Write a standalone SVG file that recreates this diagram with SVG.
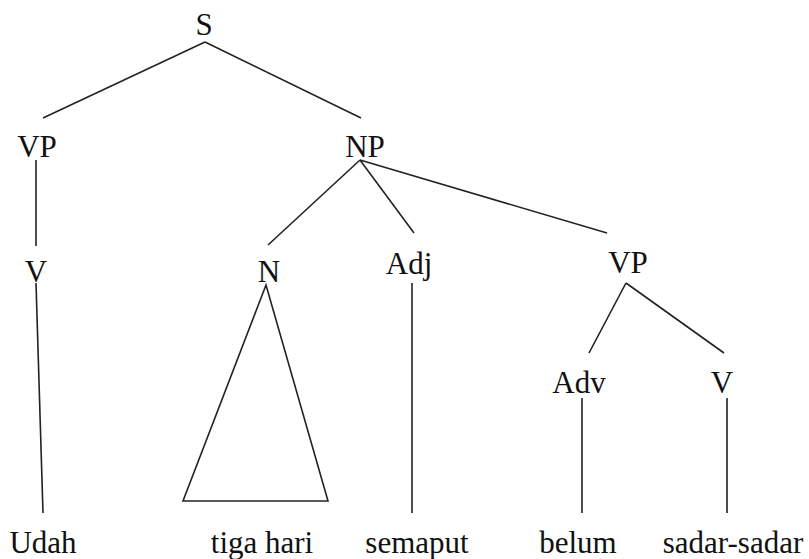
<svg xmlns="http://www.w3.org/2000/svg" width="809" height="559" viewBox="0 0 809 559">
  <style>
    text { font-family: 'Liberation Serif', serif; font-size: 31px; fill: #111; text-anchor: middle; }
    .edge { stroke: #222; stroke-width: 1.6; fill: none; stroke-linecap: butt; }
  </style>
  <rect width="809" height="559" fill="#fff"/>

  <!-- branches of the tree -->
  <g id="connectors">
    <line class="edge" x1="205" y1="42" x2="43" y2="118"/>
    <line class="edge" x1="205" y1="42" x2="361" y2="118"/>
    <line class="edge" x1="36" y1="160" x2="36" y2="246"/>
    <line class="edge" x1="360" y1="160" x2="268" y2="245"/>
    <line class="edge" x1="360" y1="160" x2="414" y2="233"/>
    <line class="edge" x1="360" y1="160" x2="607" y2="233"/>
    <line class="edge" x1="36" y1="283" x2="43" y2="513"/>
    <polygon class="edge" points="266,285 183,501 328,501"/>
    <line class="edge" x1="412" y1="283" x2="412" y2="513"/>
    <line class="edge" x1="626" y1="283" x2="589" y2="353"/>
    <line class="edge" x1="626" y1="283" x2="724" y2="353"/>
    <line class="edge" x1="582" y1="398" x2="582" y2="513"/>
    <line class="edge" x1="727" y1="398" x2="727" y2="513"/>
  </g>

  <!-- category labels -->
  <g id="node-s"><text x="204" y="35">S</text></g>
  <g id="node-vp1"><text x="37" y="157">VP</text></g>
  <g id="node-np"><text x="365" y="157">NP</text></g>
  <g id="node-v1"><text x="36" y="282">V</text></g>
  <g id="node-n"><text x="269" y="282">N</text></g>
  <g id="node-adj"><text x="409" y="274">Adj</text></g>
  <g id="node-vp2"><text x="628" y="273">VP</text></g>
  <g id="node-adv"><text x="579" y="393">Adv</text></g>
  <g id="node-v2"><text x="722" y="393">V</text></g>

  <!-- words -->
  <g id="leaf-udah"><text x="43" y="553">Udah</text></g>
  <g id="leaf-tiga-hari"><text x="262" y="553">tiga hari</text></g>
  <g id="leaf-semaput"><text x="417" y="553">semaput</text></g>
  <g id="leaf-belum"><text x="578" y="553">belum</text></g>
  <g id="leaf-sadar-sadar"><text x="733" y="553">sadar-sadar</text></g>
</svg>
